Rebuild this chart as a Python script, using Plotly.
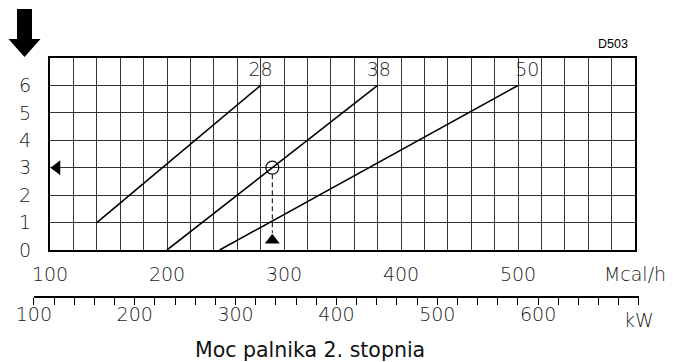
import plotly.graph_objects as go

# ---- data ----
mcal_ticks = [100, 200, 300, 400, 500, 600]
mcal_ticktext = ["100", "200", "300", "400", "500", "Mcal/h"]
kw_ticks = [100, 200, 300, 400, 500, 600, 700]
kw_ticktext = ["100", "200", "300", "400", "500", "600", ""]
y_ticks = [0, 1, 2, 3, 4, 5, 6]

s28_x = [140, 280]
s28_y = [1, 6]
s38_x = [200, 380]
s38_y = [0, 6]
s50_x = [245, 500]
s50_y = [0, 6]

curve_labels = ["28", "38", "50"]
label_x = [280, 381, 508]
label_y = [6.53, 6.53, 6.53]

op_x = [290]
op_y = [3]
guide_x = [290, 290]
guide_y = [2.76, 0.62]
left_mark_x = [106]
left_mark_y = [3]
up_mark_x = [290]
up_mark_y = [0.36]

KW_TO_MCAL = 0.862

# ---- layout geometry (pixels) ----
W, H = 673, 362
ML, MR, MT, MB = 20, 20, 58, 66
PW = W - ML - MR
PH = H - MT - MB
X0, X1 = 50, 635  # plot left/right px
Y0 = 250          # plot bottom px


def px_of_mcal(m):
    return X0 + (m - 100) * (X1 - X0) / 500.0


def fx(px):
    return (px - ML) / PW


def fy(py):
    return (H - MB - py) / PH


TF = dict(family="DejaVu Sans", size=19, color="#1a1a1a", weight=200)
BLACK = "#000000"
GRID = "#333333"

fig = go.Figure()

for xs, ys in [(s28_x, s28_y), (s38_x, s38_y), (s50_x, s50_y)]:
    fig.add_trace(go.Scatter(x=xs, y=ys, mode="lines",
                             line=dict(color=BLACK, width=1.6),
                             hoverinfo="skip", showlegend=False))

fig.add_trace(go.Scatter(x=label_x, y=label_y, mode="text", text=curve_labels,
                         textfont=TF, textposition="middle center",
                         hoverinfo="skip", showlegend=False, cliponaxis=False))

fig.add_trace(go.Scatter(x=guide_x, y=guide_y, mode="lines",
                         line=dict(color=BLACK, width=1, dash="5px,3px"),
                         hoverinfo="skip", showlegend=False))

fig.add_trace(go.Scatter(x=op_x, y=op_y, mode="markers",
                         marker=dict(symbol="circle-open", size=13,
                                     line=dict(color=BLACK, width=1.2), color=BLACK),
                         hoverinfo="skip", showlegend=False))

fig.add_trace(go.Scatter(x=left_mark_x, y=left_mark_y, mode="markers",
                         marker=dict(symbol="triangle-left", size=13, color=BLACK),
                         hoverinfo="skip", showlegend=False, cliponaxis=False))

fig.add_trace(go.Scatter(x=up_mark_x, y=up_mark_y, mode="markers",
                         marker=dict(symbol="triangle-up", size=13, color=BLACK),
                         hoverinfo="skip", showlegend=False, cliponaxis=False))

# dummy trace for kW axis
fig.add_trace(go.Scatter(x=[kw_ticks[0], kw_ticks[-1]], y=[0, 0], xaxis="x2", yaxis="y2",
                         mode="markers", marker=dict(opacity=0), hoverinfo="skip",
                         showlegend=False))

kw_d0 = fx(px_of_mcal(kw_ticks[0] * KW_TO_MCAL))
kw_d1 = fx(px_of_mcal(kw_ticks[-1] * KW_TO_MCAL))

fig.update_layout(
    width=W, height=H, autosize=False,
    margin=dict(l=ML, r=MR, t=MT, b=MB, pad=0, autoexpand=False),
    paper_bgcolor="white", plot_bgcolor="white",
    xaxis=dict(domain=[fx(X0), fx(X1)], range=[100, 600], anchor="y",
               tickvals=mcal_ticks, ticktext=mcal_ticktext, ticks="",
               tickfont=TF, ticklabelstandoff=6, automargin=False,
               showgrid=True, gridcolor=GRID, gridwidth=1,
               minor=dict(dtick=20, tick0=100, showgrid=True, gridcolor=GRID, gridwidth=1),
               showline=True, linecolor=BLACK, linewidth=2, mirror=True,
               zeroline=False, fixedrange=True),
    yaxis=dict(domain=[fy(Y0), 1], range=[0, 7], anchor="x",
               tickvals=y_ticks, ticks="", tickfont=TF, ticklabelstandoff=13,
               automargin=False,
               showgrid=True, gridcolor=GRID, gridwidth=1,
               showline=True, linecolor=BLACK, linewidth=2, mirror=True,
               zeroline=False, fixedrange=True),
    xaxis2=dict(domain=[kw_d0, kw_d1], range=[kw_ticks[0], kw_ticks[-1]], anchor="y2",
                side="bottom", tickvals=kw_ticks, ticktext=kw_ticktext,
                ticks="outside", ticklen=7, tickwidth=1.3, tickcolor=BLACK,
                ticklabelstandoff=-7,
                minor=dict(dtick=20, tick0=100, ticks="outside", ticklen=7,
                           tickwidth=1.3, tickcolor=BLACK, showgrid=False),
                tickfont=TF, showgrid=False, showline=True, linecolor=BLACK,
                linewidth=2, zeroline=False, fixedrange=True, automargin=False),
    yaxis2=dict(domain=[0, 0.02], anchor="x2", visible=False, range=[0, 1],
                fixedrange=True, automargin=False),
)

fig.add_annotation(text="kW", xref="x2", x=kw_ticks[-1], yref="paper", y=fy(319.5),
                   xanchor="center", yanchor="middle", showarrow=False, font=TF)
fig.add_annotation(text="D503", xref="paper", x=fx(630), yref="paper", y=fy(44),
                   xanchor="right", yanchor="middle", showarrow=False,
                   font=dict(family="Liberation Sans", size=12.5, color=BLACK))
fig.add_annotation(text="Moc palnika 2. stopnia", xref="paper", x=fx(310), yref="paper",
                   y=fy(350), xanchor="center", yanchor="middle", showarrow=False,
                   font=dict(family="DejaVu Sans", size=20.5, color="#111111"))

# big down arrow (top-left)
pts = [(17, 9), (32, 9), (32, 39), (40.5, 39), (24.5, 57), (8.5, 39), (17, 39)]
path = "M " + " L ".join(f"{fx(a):.5f},{fy(b):.5f}" for a, b in pts) + " Z"
fig.add_shape(type="path", path=path, xref="paper", yref="paper",
              fillcolor=BLACK, line=dict(color=BLACK, width=0))

fig.write_html("out.html")
